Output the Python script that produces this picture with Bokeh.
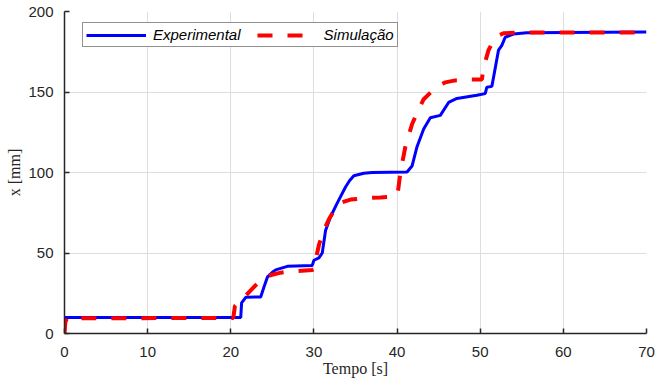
from bokeh.plotting import figure
from bokeh.models import Range1d, SingleIntervalTicker, Legend, LegendItem
from bokeh.embed import file_html
from bokeh.resources import INLINE

# Experimental (measured) position
t_exp = [0, 0.05, 21.2, 21.3, 21.8, 23.6, 24.0, 24.4, 25.0, 25.4, 26.8, 29.8, 30.0, 30.6,
         31.0, 31.4, 32.0, 32.8, 33.8, 34.3, 34.8, 36.0, 37.0, 41.2, 41.8, 42.4, 43.2, 44.0,
         45.2, 46.2, 47.2, 49.6, 50.6, 50.8, 51.4, 51.6, 52.2, 52.6, 53.0, 54.0, 55.6, 70.0]
x_exp = [0, 10, 10, 19, 22.5, 22.7, 29, 35, 38, 39.5, 41.7, 42.3, 45.5, 47,
         50, 64, 72.5, 81, 91, 95, 98, 99.5, 100, 100.3, 104, 116, 127, 134,
         135.5, 143.5, 146, 148, 149, 153, 153.5, 159, 176, 179, 184, 186, 186.8, 187.2]

# Simulation
t_sim = [0, 0.1, 0.3, 20.3, 20.5, 21.0, 21.8, 23.0, 24.0, 25.0, 26.0, 27.6, 29.8, 30.0,
         30.3, 30.6, 31.2, 31.8, 32.5, 33.4, 34.4, 36.0, 38.0, 39.8, 40.1, 40.4, 41.0, 41.8,
         42.4, 43.2, 44.2, 45.0, 45.8, 47.0, 48.8, 50.2, 50.4, 51.0, 51.8, 52.8, 55.0, 70.0]
x_sim = [0, 7, 9.5, 9.6, 17, 20, 23.5, 30, 34.5, 36.5, 37.8, 38.6, 39.5, 40,
         48, 55, 64, 71, 77, 81.5, 83.2, 84, 84.5, 85, 88, 100, 116, 130,
         137, 145.5, 150.5, 154, 156, 157.2, 157.7, 157.8, 165, 176, 184, 186.5, 187, 187]

x_ticks_step = 10
y_ticks_step = 50

p = figure(width=656, height=379, output_backend="svg", toolbar_location=None,
           x_range=Range1d(0, 70), y_range=Range1d(0, 200),
           min_border_left=64, min_border_top=11, min_border_bottom=45, min_border_right=10)
p.outline_line_color = None
p.background_fill_color = "white"

r_exp = p.line(t_exp, x_exp, line_color="#0000ff", line_width=3)
r_sim = p.line(t_sim, x_sim, line_color="#ff0000", line_width=4, line_dash="15 15")

for ax in (p.xaxis[0], p.yaxis[0]):
    ax.axis_line_color = "#262626"
    ax.axis_line_width = 1.5
    ax.major_tick_line_color = "#262626"
    ax.major_tick_line_width = 1.5
    ax.major_tick_in = 5
    ax.major_tick_out = 0
    ax.minor_tick_line_color = None
    ax.major_label_text_font = "Liberation Sans"
    ax.major_label_text_font_size = "15px"
    ax.major_label_text_color = "#262626"
    ax.axis_label_text_font = "Liberation Serif"
    ax.axis_label_text_font_size = "16px"
    ax.axis_label_text_font_style = "normal"
    ax.axis_label_text_color = "#262626"

p.xaxis.ticker = SingleIntervalTicker(interval=x_ticks_step)
p.yaxis.ticker = SingleIntervalTicker(interval=y_ticks_step)
p.xaxis.axis_label = "Tempo [s]"
p.yaxis.axis_label = "x [mm]"
p.xaxis.major_label_standoff = 9
p.yaxis.major_label_standoff = 7
p.xaxis.axis_label_standoff = 0
p.yaxis.axis_label_standoff = 2

p.xgrid.grid_line_color = "#dedede"
p.ygrid.grid_line_color = "#dedede"
p.xgrid.ticker = SingleIntervalTicker(interval=x_ticks_step)
p.ygrid.ticker = SingleIntervalTicker(interval=y_ticks_step)

legend = Legend(items=[LegendItem(label="Experimental", renderers=[r_exp]),
                       LegendItem(label="Simulação", renderers=[r_sim])],
                orientation="horizontal", location=(18, 286))
legend.border_line_color = "#262626"
legend.border_line_width = 1
legend.background_fill_color = "white"
legend.background_fill_alpha = 1
legend.label_text_font = "Liberation Sans"
legend.label_text_font_style = "italic"
legend.label_text_font_size = "15px"
legend.label_text_color = "#000000"
legend.glyph_width = 60
legend.glyph_height = 12
legend.label_height = 12
legend.label_standoff = 7
legend.spacing = 16
legend.padding = 3
legend.margin = 0
p.add_layout(legend)

open("out.html", "w").write(file_html(p, INLINE))
